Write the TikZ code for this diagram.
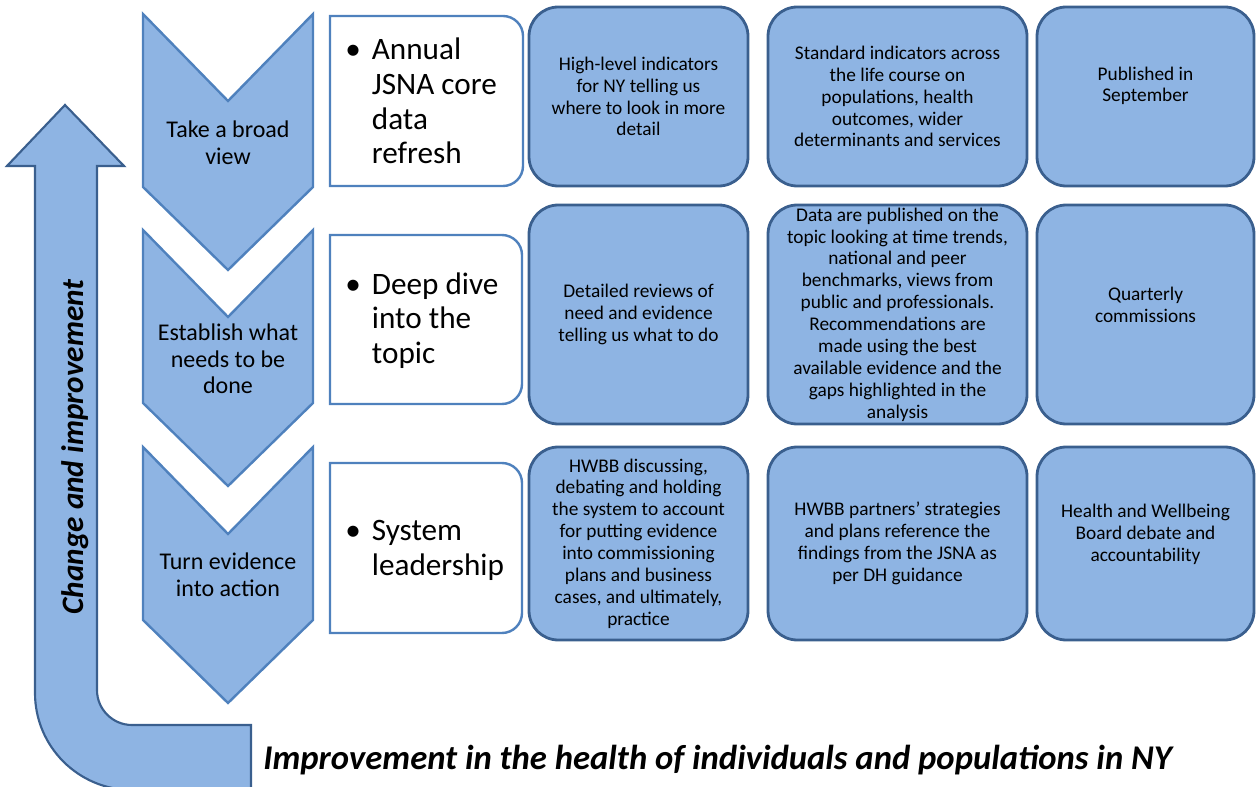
\documentclass[tikz,border=0pt]{standalone}
\usepackage{fontspec}
\setmainfont{Carlito}
\usepackage{tikz}

\definecolor{stepfill}{HTML}{8EB4E3}
\definecolor{stepline}{HTML}{4F81BD}
\definecolor{cellline}{HTML}{3A5F8E}

\begin{document}
\begin{tikzpicture}[x=0.75pt,y=-0.75pt,
    chevron/.style={fill=stepfill,draw=stepline,line width=1.8pt,line join=miter},
    note/.style={fill=white,draw=stepline,line width=1.8pt},
    cell/.style={fill=stepfill,draw=cellline,line width=2.1pt,rounded corners=22pt,inner sep=0pt,align=center,font=\fontsize{14.5}{16.4}\selectfont},
    celltext/.style={inner sep=0pt,align=center,font=\fontsize{14.5}{16.4}\selectfont},
    steptext/.style={inner sep=0pt,align=center,font=\fontsize{18}{20}\selectfont},
    notetext/.style={anchor=west,inner sep=0pt,font=\fontsize{23.4}{26}\selectfont},
    bigarrow/.style={fill=stepfill,draw=cellline,line width=1.6pt,line join=miter}]
    \useasboundingbox (0,0) rectangle (1256,787);

    \draw[bigarrow] (65,105) -- (124,166) -- (97,166) -- (97,690)
        arc[start angle=180,end angle=90,radius=35] -- (251,725) -- (251,790)
        -- (132,790) arc[start angle=90,end angle=180,radius=97] -- (35,166) -- (7,166) -- cycle;

    \draw[chevron] (143,14) -- (228,101) -- (313,14) -- (313,187) -- (228,270) -- (143,187) -- cycle;
    \draw[chevron] (143,230) -- (228,317) -- (313,230) -- (313,403) -- (228,486) -- (143,403) -- cycle;
    \draw[chevron] (143,447) -- (228,534) -- (313,447) -- (313,620) -- (228,703) -- (143,620) -- cycle;

    \node[steptext] (broad) at (228,143) {Take a broad\\view};
    \node[steptext] (establish) at (228,359) {Establish what\\needs to be\\done};
    \node[steptext] (action) at (228,575) {Turn evidence\\into action};

    \draw[note] (330,16) -- (450,16) [rounded corners=15pt] -- (523,16) -- (523,186) -- (450,186) [sharp corners] -- (330,186) -- cycle;
    \draw[note] (330,235) -- (450,235) [rounded corners=15pt] -- (522,235) -- (522,404) -- (450,404) [sharp corners] -- (330,404) -- cycle;
    \draw[note] (330,463) -- (450,463) [rounded corners=15pt] -- (522,463) -- (522,633) -- (450,633) [sharp corners] -- (330,633) -- cycle;

    \node[notetext] (annual) at (345,105) {\begin{tabular}{@{}p{20pt}@{}l@{}}\textbullet & Annual\\ & JSNA core\\ & data\\ & refresh\end{tabular}};
    \node[notetext] (deepdive) at (345,322) {\begin{tabular}{@{}p{20pt}@{}l@{}}\textbullet & Deep dive\\ & into the\\ & topic\end{tabular}};
    \node[notetext] (leadership) at (345,551) {\begin{tabular}{@{}p{20pt}@{}l@{}}\textbullet & System\\ & leadership\end{tabular}};

    \node[cell,minimum width=164.25pt,minimum height=134.25pt] (hilevel) at (638.5,96.5)
        {High-level indicators\\for NY telling us\\where to look in more\\detail};
    \node[cell,minimum width=194.25pt,minimum height=134.25pt] (standard) at (897.5,96.5)
        {Standard indicators across\\the life course on\\populations, health\\outcomes, wider\\determinants and services};
    \node[cell,minimum width=162.75pt,minimum height=134.25pt] (published) at (1145.5,96.5) {};
    \node[celltext] at ([yshift=8pt]published.center) {Published in\\September};

    \node[cell,minimum width=164.25pt,minimum height=164.25pt] (reviews) at (638.5,314.5)
        {Detailed reviews of\\need and evidence\\telling us what to do};
    \node[cell,minimum width=194.25pt,minimum height=164.25pt] (datapub) at (897.5,314.5)
        {Data are published on the\\topic looking at time trends,\\national and peer\\benchmarks, views from\\public and professionals.\\Recommendations are\\made using the best\\available evidence and the\\gaps highlighted in the\\analysis};
    \node[cell,minimum width=162.75pt,minimum height=164.25pt] (quarterly) at (1145.5,314.5) {};
    \node[celltext] at ([yshift=7.5pt]quarterly.center) {Quarterly\\commissions};

    \node[cell,minimum width=164.25pt,minimum height=144.75pt] (discuss) at (638.5,543.5)
        {HWBB discussing,\\debating and holding\\the system to account\\for putting evidence\\into commissioning\\plans and business\\cases, and ultimately,\\practice};
    \node[cell,minimum width=194.25pt,minimum height=144.75pt] (partners) at (897.5,543.5)
        {HWBB partners' strategies\\and plans reference the\\findings from the JSNA as\\per DH guidance};
    \node[cell,minimum width=162.75pt,minimum height=144.75pt] (board) at (1145.5,543.5) {};
    \node[celltext] at ([yshift=7pt]board.center) {Health and Wellbeing\\Board debate and\\accountability};

    \node[rotate=90,inner sep=0pt,font=\fontsize{23.4}{26}\selectfont\bfseries\itshape] (change) at (75,447) {Change and improvement};
    \node[anchor=west,inner sep=0pt,font=\fontsize{26}{30}\selectfont\bfseries\itshape] (outcome) at (263,760)
        {Improvement in the health of individuals and populations in NY};
\end{tikzpicture}
\end{document}
